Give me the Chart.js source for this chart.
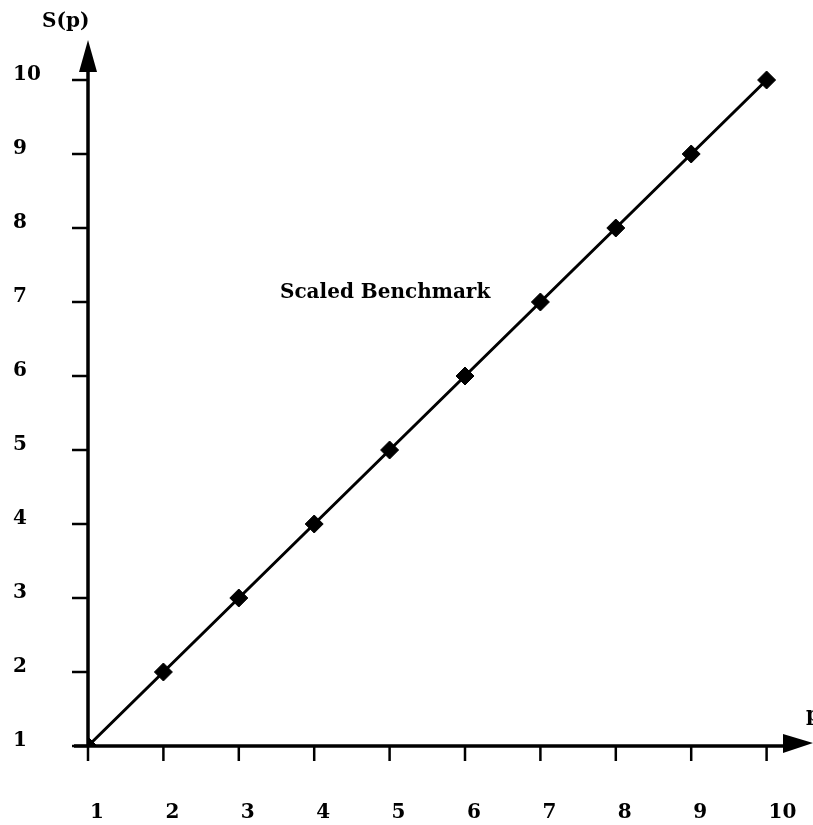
<!DOCTYPE html>
<html>
<head>
<meta charset="utf-8">
<script src="https://cdn.jsdelivr.net/npm/chart.js@4/dist/chart.umd.min.js"></script>
<style>
  html, body { margin: 0; padding: 0; background: #fff; }
  #wrap { width: 813px; height: 825px; }
</style>
</head>
<body>
<div id="wrap"><canvas id="c" width="813" height="825"></canvas></div>
<script>
// 데이터
const pValues = [1, 2, 3, 4, 5, 6, 7, 8, 9, 10];
const sValues = [1, 2, 3, 4, 5, 6, 7, 8, 9, 10];
const xTicks = [1, 2, 3, 4, 5, 6, 7, 8, 9, 10];
const yTicks = [1, 2, 3, 4, 5, 6, 7, 8, 9, 10];
const seriesLabel = 'Scaled Benchmark';
const xTitle = 'p';
const yTitle = 'S(p)';

const FONT = 'bold 20px "DejaVu Serif", "Liberation Serif", serif';

// 축, 화살표, 눈금, 라벨 그리기
const axesPlugin = {
    id: 'axesPlugin',
    afterDatasetsDraw(chart) {
        const ctx = chart.ctx;
        const xs = chart.scales.x, ys = chart.scales.y;
        const x0 = xs.getPixelForValue(1);
        const y0 = ys.getPixelForValue(1);
        ctx.save();
        ctx.strokeStyle = '#000';
        ctx.fillStyle = '#000';
        ctx.lineWidth = 3.5;

        // y axis
        ctx.beginPath();
        ctx.moveTo(x0, y0);
        ctx.lineTo(x0, 70);
        ctx.stroke();
        ctx.beginPath();
        ctx.moveTo(x0, 40);
        ctx.lineTo(x0 - 9, 72);
        ctx.lineTo(x0 + 9, 72);
        ctx.closePath();
        ctx.fill();

        // x axis
        ctx.beginPath();
        ctx.moveTo(x0 - 14, y0);
        ctx.lineTo(785, y0);
        ctx.stroke();
        ctx.beginPath();
        ctx.moveTo(813, y0 - 3);
        ctx.lineTo(783, y0 - 12);
        ctx.lineTo(783, y0 + 7);
        ctx.closePath();
        ctx.fill();

        ctx.lineWidth = 2.5;
        ctx.font = FONT;
        ctx.textBaseline = 'middle';
        ctx.textAlign = 'left';
        xTicks.forEach(v => {
            const px = xs.getPixelForValue(v);
            ctx.beginPath();
            ctx.moveTo(px, y0);
            ctx.lineTo(px, y0 + 15);
            ctx.stroke();
            ctx.fillText(String(v), px + 2, 813);
        });
        yTicks.forEach(v => {
            const py = ys.getPixelForValue(v);
            ctx.beginPath();
            ctx.moveTo(x0 - 16, py);
            ctx.lineTo(x0, py);
            ctx.stroke();
            ctx.fillText(String(v), 13, py - 5);
        });

        ctx.fillText(yTitle, 42, 22);
        ctx.fillText(xTitle, 806, 716);
        ctx.fillText(seriesLabel, 280, 293);
        ctx.restore();
    }
};

new Chart(document.getElementById('c'), {
    type: 'scatter',
    data: {
        datasets: [{
            label: seriesLabel,
            data: pValues.map((p, i) => ({ x: p, y: sValues[i] })),
            showLine: true,
            borderColor: '#000',
            borderWidth: 3,
            pointStyle: 'rectRot',
            pointRadius: 9,
            pointBackgroundColor: '#000',
            pointBorderColor: '#000',
            pointBorderWidth: 1,
            fill: false
        }]
    },
    options: {
        responsive: false,
        animation: false,
        layout: { autoPadding: false, padding: { left: 88, right: 0, top: 40, bottom: 79 } },
        scales: {
            x: { type: 'linear', display: false, min: 1, max: 1 + 725 / 75.4 },
            y: { type: 'linear', display: false, min: 1, max: 1 + 706 / 74 }
        },
        plugins: { legend: { display: false }, tooltip: { enabled: false } }
    },
    plugins: [axesPlugin]
});
</script>
</body>
</html>
